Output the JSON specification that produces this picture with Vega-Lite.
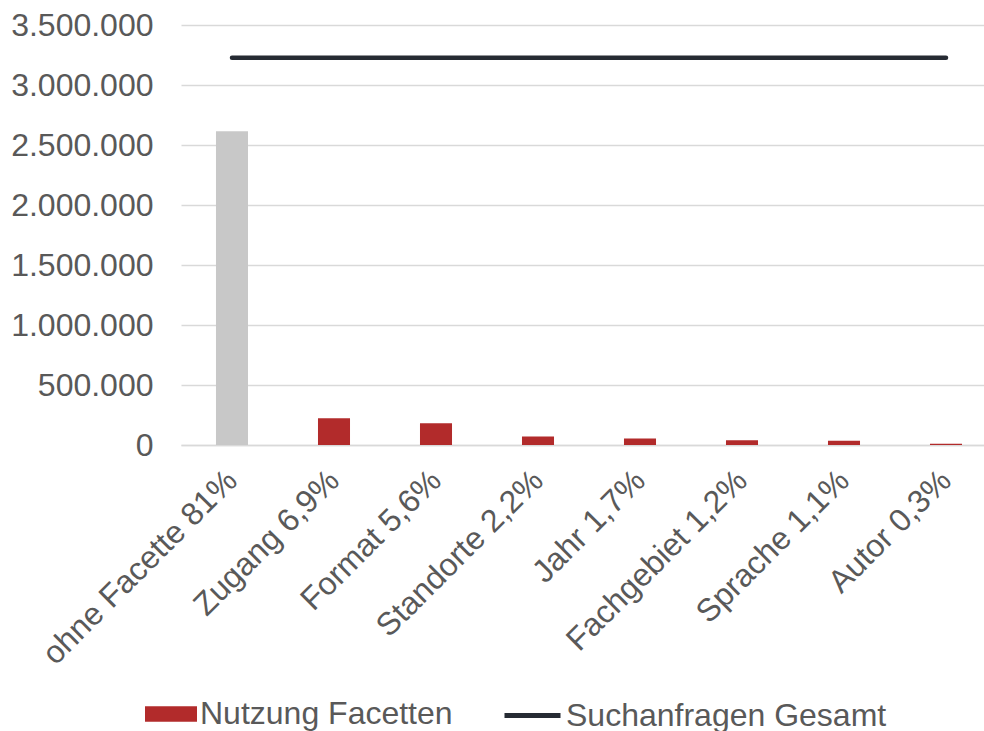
{
  "$schema": "https://vega.github.io/schema/vega-lite/v6.json",
  "autosize": "none",
  "width": 816,
  "height": 420,
  "padding": {"left": 181, "top": 25, "right": 0, "bottom": 286},
  "background": "#ffffff",
  "config": {
    "locale": {"number": {"decimal": ",", "thousands": ".", "grouping": [3], "currency": ["", " €"]}},
    "view": {"stroke": null},
    "font": "Liberation Sans",
    "axis": {"labelFont": "Liberation Sans", "labelFontSize": 32, "labelColor": "#595959", "labelLimit": 500, "labelOverlap": false},
    "legend": {"labelFont": "Liberation Sans", "labelFontSize": 32, "labelColor": "#595959", "labelLimit": 500, "labelOffset": 3}
  },
  "data": {"values": [
    {"kategorie": "ohne Facette 81%", "anzahl": 2615000, "serie": "ohne Facette", "gesamt": 3228000},
    {"kategorie": "Zugang 6,9%", "anzahl": 223000, "serie": "Nutzung Facetten", "gesamt": 3228000},
    {"kategorie": "Format 5,6%", "anzahl": 181000, "serie": "Nutzung Facetten", "gesamt": 3228000},
    {"kategorie": "Standorte 2,2%", "anzahl": 71000, "serie": "Nutzung Facetten", "gesamt": 3228000},
    {"kategorie": "Jahr 1,7%", "anzahl": 55000, "serie": "Nutzung Facetten", "gesamt": 3228000},
    {"kategorie": "Fachgebiet 1,2%", "anzahl": 39000, "serie": "Nutzung Facetten", "gesamt": 3228000},
    {"kategorie": "Sprache 1,1%", "anzahl": 36000, "serie": "Nutzung Facetten", "gesamt": 3228000},
    {"kategorie": "Autor 0,3%", "anzahl": 10000, "serie": "Nutzung Facetten", "gesamt": 3228000}
  ]},
  "encoding": {
    "x": {
      "field": "kategorie", "type": "nominal", "sort": null,
      "scale": {"paddingInner": 0.686, "paddingOuter": 0.343},
      "axis": {"title": null, "labelAngle": -45, "labelAlign": "right", "labelBaseline": "middle", "labelPadding": 30, "ticks": false, "domainColor": "#D9D9D9", "domainWidth": 1.5}
    }
  },
  "layer": [
    {
      "mark": {"type": "bar"},
      "encoding": {
        "y": {
          "field": "anzahl", "type": "quantitative",
          "scale": {"domain": [0, 3500000], "nice": false},
          "axis": {"title": null, "format": ",.0f", "values": [0, 500000, 1000000, 1500000, 2000000, 2500000, 3000000, 3500000], "domain": false, "ticks": false, "labelPadding": 28, "gridColor": "#D9D9D9", "gridWidth": 1.5}
        },
        "fill": {
          "field": "serie", "type": "nominal",
          "scale": {"domain": ["Nutzung Facetten", "ohne Facette"], "range": ["#B22B2B", "#C8C8C8"]},
          "legend": {"title": null, "values": ["Nutzung Facetten"], "orient": "none", "legendX": -36, "legendY": 663, "symbolType": "M-1,-0.3H1V0.3H-1Z", "symbolSize": 2704, "symbolStrokeWidth": 0}
        }
      }
    },
    {
      "mark": {"type": "line", "strokeWidth": 4.5, "strokeCap": "round"},
      "encoding": {
        "y": {"field": "gesamt", "type": "quantitative"},
        "stroke": {
          "datum": "Suchanfragen Gesamt",
          "scale": {"range": ["#262B33"]},
          "legend": {"title": null, "orient": "none", "legendX": 321, "legendY": 660, "symbolType": "stroke", "symbolSize": 3136, "symbolStrokeWidth": 5}
        }
      }
    }
  ]
}
